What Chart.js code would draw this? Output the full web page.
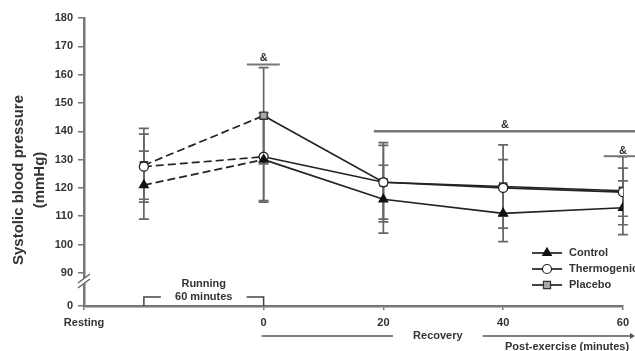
<!DOCTYPE html>
<html><head><meta charset="utf-8">
<script src="https://cdn.jsdelivr.net/npm/chart.js@4/dist/chart.umd.min.js"></script>
<style>html,body{margin:0;padding:0;background:#fff}#wrap{width:635px;height:351px}</style>
</head><body><div id="wrap"><canvas id="c" width="635" height="351"></canvas></div>
<script>
// Time points (minutes); -20 marks the resting, pre-exercise measurement
const timePoints = [-20, 0, 20, 40, 60];
const seriesNames = ['Control', 'Thermogenic', 'Placebo'];
const controlMean = [121, 130, 116, 111, 113];
const controlSD = [12, 15, 12, 10, 9.5];
const thermoMean = [127.5, 131, 122, 120, 118.5];
const thermoSD = [11.5, 15.5, 13, 10, 8.5];
const placeboMean = [128, 145.5, 122, 120.5, 119];
const placeboSD = [13, 17, 14, 14.7, 12];
const xTickValues = [-30, 0, 20, 40, 60];
const xTickLabels = ['Resting', '0', '20', '40', '60'];
// Broken y axis: the lowest tick stands for 0
const yBreakBase = 78.3;
const yTickValues = [78.3, 90, 100, 110, 120, 130, 140, 150, 160, 170, 180];
const yTickLabels = ['0', '90', '100', '110', '120', '130', '140', '150', '160', '170', '180'];

const FONT = 'Liberation Sans, Arial, sans-serif';
const INK = '#333';
const AXIS = '#777';

function pts(means) { return timePoints.map((t, i) => ({ x: t, y: means[i] })); }
const dashFirst = { borderDash: ctx => ctx.p0DataIndex === 0 ? [8, 4] : undefined };

const errorBars = {
  id: 'errorBars',
  beforeDatasetsDraw(chart) {
    const { ctx, scales: { x, y } } = chart;
    const sets = [[controlMean, controlSD], [thermoMean, thermoSD], [placeboMean, placeboSD]];
    ctx.save();
    ctx.strokeStyle = '#666';
    ctx.lineWidth = 1.7;
    sets.forEach(([m, sd]) => {
      timePoints.forEach((t, i) => {
        const px = x.getPixelForValue(t);
        const top = y.getPixelForValue(m[i] + sd[i]);
        const bot = y.getPixelForValue(m[i] - sd[i]);
        ctx.beginPath();
        ctx.moveTo(px, top); ctx.lineTo(px, bot);
        ctx.moveTo(px - 5, top); ctx.lineTo(px + 5, top);
        ctx.moveTo(px - 5, bot); ctx.lineTo(px + 5, bot);
        ctx.stroke();
      });
    });
    ctx.restore();
  }
};

const decorations = {
  id: 'decorations',
  afterDraw(chart) {
    const { ctx, scales: { x, y }, chartArea: ca } = chart;
    const W = chart.width;
    ctx.save();
    ctx.fillStyle = INK;
    ctx.strokeStyle = AXIS;
    ctx.font = 'bold 11px ' + FONT;
    ctx.textAlign = 'center';
    ctx.textBaseline = 'alphabetic';

    // significance markers
    const bar = (x0, x1, v, w) => {
      const py = y.getPixelForValue(v);
      ctx.lineWidth = w;
      ctx.beginPath(); ctx.moveTo(x0, py); ctx.lineTo(x1, py); ctx.stroke();
      return py;
    };
    let py = bar(x.getPixelForValue(-2.8), x.getPixelForValue(2.7), 163.6, 2);
    ctx.fillText('&', x.getPixelForValue(0), py - 3);
    py = bar(x.getPixelForValue(18.4), W, 140, 2.5);
    ctx.fillText('&', x.getPixelForValue(40.3), py - 3);
    py = bar(x.getPixelForValue(56.8), W, 131.2, 2);
    ctx.fillText('&', x.getPixelForValue(60), py - 2);

    // exercise bracket above the x axis
    const b0 = x.getPixelForValue(-20), b1 = x.getPixelForValue(0);
    const yb = ca.bottom, yt = ca.bottom - 9;
    ctx.strokeStyle = '#444';
    ctx.lineWidth = 1.5;
    ctx.beginPath();
    ctx.moveTo(b0, yb); ctx.lineTo(b0, yt); ctx.lineTo(b0 + 17, yt);
    ctx.moveTo(b1, yb); ctx.lineTo(b1, yt); ctx.lineTo(b1 - 17, yt);
    ctx.stroke();
    const bc = (b0 + b1) / 2;
    ctx.fillText('Running', bc, ca.bottom - 19);
    ctx.fillText('60 minutes', bc, ca.bottom - 6);

    // recovery / post-exercise annotation below the axis
    const ly = 336;
    ctx.strokeStyle = '#555';
    ctx.lineWidth = 1.7;
    ctx.beginPath();
    ctx.moveTo(x.getPixelForValue(0) - 2, ly); ctx.lineTo(x.getPixelForValue(21.6), ly);
    ctx.moveTo(x.getPixelForValue(36.6), ly); ctx.lineTo(W - 2, ly);
    ctx.stroke();
    ctx.beginPath();
    ctx.moveTo(W, ly); ctx.lineTo(W - 5, ly - 3); ctx.lineTo(W - 5, ly + 3); ctx.closePath();
    ctx.fillStyle = '#555'; ctx.fill();
    ctx.fillStyle = INK;
    ctx.textBaseline = 'middle';
    ctx.fillText('Recovery', x.getPixelForValue(29.1), ly);
    ctx.textAlign = 'left';
    ctx.fillText('Post-exercise (minutes)', 505, 347);

    // break marks on the y axis
    const ax = ca.left;
    ctx.fillStyle = '#fff';
    ctx.beginPath();
    ctx.moveTo(ax - 6, 283); ctx.lineTo(ax + 6, 274); ctx.lineTo(ax + 6, 279); ctx.lineTo(ax - 6, 288); ctx.closePath();
    ctx.fill();
    ctx.strokeStyle = '#666';
    ctx.lineWidth = 1.5;
    ctx.beginPath();
    ctx.moveTo(ax - 6, 283); ctx.lineTo(ax + 6, 274);
    ctx.moveTo(ax - 6, 288); ctx.lineTo(ax + 6, 279);
    ctx.stroke();

    // y-axis title
    ctx.fillStyle = INK;
    ctx.font = 'bold 15px ' + FONT;
    ctx.textAlign = 'center';
    ctx.textBaseline = 'middle';
    ctx.translate(19, 180);
    ctx.rotate(-Math.PI / 2);
    ctx.fillText('Systolic blood pressure', 0, 0);
    ctx.fillText('(mmHg)', 0, 21);
    ctx.setTransform(1, 0, 0, 1, 0, 0);

    // legend
    ctx.font = 'bold 11px ' + FONT;
    ctx.textAlign = 'left';
    chart.data.datasets.forEach((ds, i) => {
      const ly2 = 253 + i * 16;
      ctx.strokeStyle = ds.borderColor;
      ctx.lineWidth = 1.7;
      ctx.beginPath(); ctx.moveTo(532, ly2); ctx.lineTo(562, ly2); ctx.stroke();
      ctx.fillStyle = ds.pointBackgroundColor;
      ctx.strokeStyle = ds.pointBorderColor;
      ctx.lineWidth = 1.2;
      Chart.helpers.drawPoint(ctx, { pointStyle: ds.pointStyle, radius: ds.pointRadius, rotation: 0, borderWidth: 1.2 }, 547, ly2);
      ctx.fillStyle = INK;
      ctx.fillText(ds.label, 569, ly2);
    });
    ctx.restore();
  }
};

new Chart(document.getElementById('c'), {
  type: 'line',
  data: {
    datasets: [
      { label: seriesNames[0], data: pts(controlMean), pointStyle: 'triangle', pointRadius: 5,
        pointBackgroundColor: '#111', pointBorderColor: '#111' },
      { label: seriesNames[1], data: pts(thermoMean), pointStyle: 'circle', pointRadius: 4.5,
        pointBackgroundColor: '#fff', pointBorderColor: '#222' },
      { label: seriesNames[2], data: pts(placeboMean), pointStyle: 'rect', pointRadius: 5,
        pointBackgroundColor: '#aaa', pointBorderColor: '#333' }
    ].map(d => Object.assign({
      borderColor: '#222', borderWidth: 1.7, pointBorderWidth: 1.3, tension: 0,
      fill: false, segment: dashFirst
    }, d))
  },
  options: {
    responsive: false,
    animation: false,
    layout: { padding: { top: 18, right: 7, left: 0, bottom: 0 } },
    plugins: { legend: { display: false }, tooltip: { enabled: false } },
    scales: {
      x: {
        type: 'linear', min: -30, max: 60,
        afterFit: s => { s.height = 45; },
        afterBuildTicks: s => { s.ticks = xTickValues.map(v => ({ value: v })); },
        ticks: {
          callback: v => xTickLabels[xTickValues.indexOf(v)] ?? '',
          color: INK, font: { family: FONT, size: 11, weight: 'bold' }, padding: 6, maxRotation: 0
        },
        grid: { drawOnChartArea: false, drawTicks: true, tickLength: 4, color: AXIS, lineWidth: 1.5 },
        border: { display: true, color: AXIS, width: 2.5 }
      },
      y: {
        type: 'linear', min: yBreakBase, max: 180,
        afterFit: s => { s.width = 84; },
        afterBuildTicks: s => { s.ticks = yTickValues.map(v => ({ value: v })); },
        ticks: {
          callback: v => yTickLabels[yTickValues.indexOf(v)] ?? '',
          color: INK, font: { family: FONT, size: 11, weight: 'bold' }, padding: 5
        },
        grid: { drawOnChartArea: false, drawTicks: true, tickLength: 6, color: AXIS, lineWidth: 1.5 },
        border: { display: true, color: AXIS, width: 2.5 }
      }
    }
  },
  plugins: [errorBars, decorations]
});
</script></body></html>
